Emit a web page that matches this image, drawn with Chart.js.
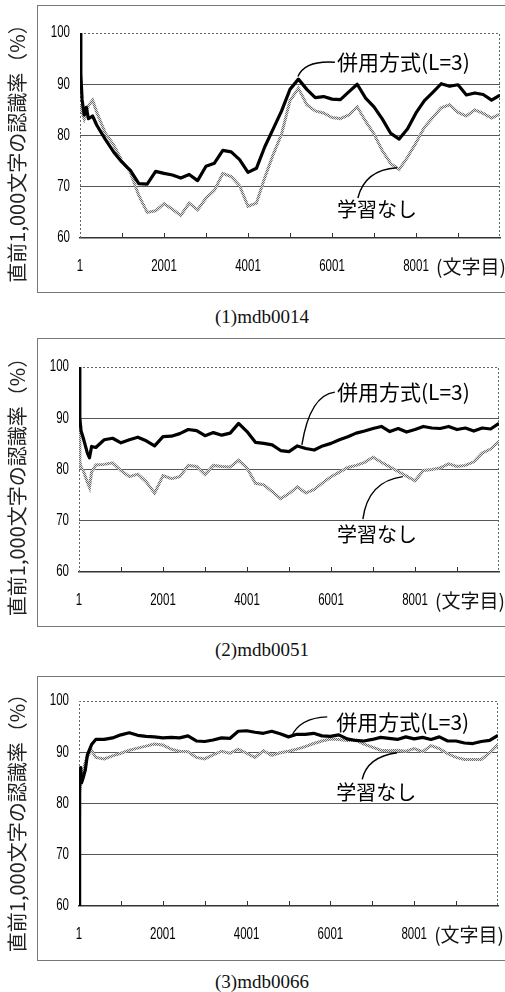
<!DOCTYPE html>
<html>
<head>
<meta charset="utf-8">
<script src="https://cdn.jsdelivr.net/npm/chart.js@4.4.0/dist/chart.umd.min.js"></script>
<style>
body { margin: 0; background: #fff; width: 505px; height: 992px; position: relative; overflow: hidden; }
canvas { position: absolute; left: 0; }
.cap { position: absolute; left: 162px; width: 200px; text-align: center; font: 19px "Liberation Serif", "Times New Roman", serif; color: #111; line-height: 22px; }
</style>
</head>
<body>
<canvas id="c1" width="505" height="300" style="top:0px"></canvas>
<div class="cap" id="cap1" style="top:306px"></div>
<canvas id="c2" width="505" height="300" style="top:334px"></canvas>
<div class="cap" id="cap2" style="top:639px"></div>
<canvas id="c3" width="505" height="300" style="top:668px"></canvas>
<div class="cap" id="cap3" style="top:971px"></div>
<script>
// character positions shared by all three charts (after the first few)
var xGrid = [401, 601, 801, 1001, 1201, 1401, 1601, 1801, 2001, 2201, 2401, 2601, 2801,
  3001, 3201, 3401, 3601, 3801, 4001, 4201, 4401, 4601, 4801, 5001, 5201, 5401, 5601, 5801,
  6001, 6201, 6401, 6601, 6801, 7001, 7201, 7401, 7601, 7801, 8001, 8201, 8401, 8601, 8801,
  9001, 9201, 9401, 9601, 9801, 10001];

// (1) mdb0014
var c1Head = [1, 21, 51, 101, 151, 201, 301];
var c1Comb = [100, 92, 87, 84, 85.5, 83.3, 83.8,
  82.0, 79.3, 76.8, 74.8, 73.2, 70.6, 70.5, 73.0, 72.6, 72.3, 71.7, 72.4, 71.2,
  74.0, 74.6, 77.1, 76.8, 75.3, 72.8, 73.6, 77.8, 81.3, 84.8, 89.0, 91.0, 89.0, 87.4, 87.6,
  87.1, 87.0, 88.5, 90.0, 87.3, 85.6, 83.2, 80.4, 79.3, 81.3, 84.4, 86.8, 88.4, 90.1, 89.6,
  89.9, 87.9, 88.3, 88.0, 86.9, 87.9];
var c1Base = [86, 85.5, 84.5, 83.2, 84.5, 85.8, 86.9,
  84.5, 80.5, 78.2, 75.0, 72.8, 68.3, 65.0, 65.3, 66.7, 65.6, 64.4, 66.8, 65.5,
  67.8, 69.3, 72.6, 72.0, 70.2, 66.2, 66.8, 71.8, 76.3, 80.3, 86.8, 89.2, 86.0, 84.8, 84.4,
  83.5, 83.3, 84.0, 85.6, 82.8, 80.3, 77.0, 74.5, 73.4, 75.8, 78.6, 81.6, 83.5, 85.4, 86.0,
  84.5, 83.8, 85.0, 84.3, 83.4, 84.2];

// (2) mdb0051
var c2Head = [1, 21, 51, 101, 201, 251, 301];
var c2Comb = [100, 90, 87.5, 86.2, 83.2, 82.3, 84.5,
  84.3, 85.8, 86.1, 85.2, 85.8, 86.3, 85.6, 84.6, 86.4, 86.5, 87.0, 87.8, 87.6,
  86.6, 87.2, 86.7, 87.1, 89.0, 87.4, 85.3, 85.1, 84.8, 83.7, 83.5, 84.6, 84.1, 83.8, 84.6,
  85.1, 85.8, 86.4, 87.1, 87.5, 88.0, 88.4, 87.4, 88.0, 87.3, 87.8, 88.4, 88.1, 88.0, 88.4,
  87.8, 88.1, 87.5, 88.1, 87.9, 89.0];
var c2Base = [88, 81.5, 80.5, 79.8, 77.5, 76.5, 79.5,
  80.9, 81.0, 81.3, 79.8, 78.6, 79.1, 77.6, 75.4, 78.8, 78.2, 78.6, 80.8, 80.6,
  79.0, 80.8, 80.6, 80.5, 81.8, 80.3, 77.3, 77.0, 75.7, 74.3, 75.3, 76.6, 75.4, 76.1, 77.4,
  78.6, 79.5, 80.4, 80.8, 81.4, 82.4, 81.4, 80.5, 79.6, 78.7, 77.8, 79.8, 80.0, 80.3, 81.1,
  80.6, 80.8, 81.5, 83.2, 84.0, 85.5];

// (3) mdb0066
var c3Head = [1, 11, 21, 41, 61, 101, 151, 201, 301];
var c3Comb = [60, 78, 86, 87, 84, 85, 86.5, 89.5, 91.5,
  92.5, 92.5, 92.8, 93.4, 93.8, 93.3, 93.1, 93.0, 92.8, 92.9, 92.8, 93.2, 92.2,
  92.1, 92.4, 92.8, 92.7, 94.1, 94.2, 93.9, 93.7, 94.1, 93.6, 93.0, 93.5, 93.5, 93.7, 93.2,
  93.1, 93.4, 92.6, 92.3, 92.2, 92.5, 92.9, 92.7, 92.5, 93.0, 92.6, 92.9, 92.5, 93.0, 92.2,
  92.2, 91.8, 91.7, 92.1, 92.3, 93.3];
var c3Base = [78, 80, 82, 84, 85, 86.5, 88, 89.2, 90.4,
  89.0, 88.7, 89.3, 89.8, 90.4, 90.8, 91.2, 91.6, 91.4, 90.6, 90.2, 90.1, 89.0,
  88.7, 89.5, 90.2, 89.8, 90.6, 89.8, 89.0, 90.3, 89.4, 89.9, 90.2, 90.6, 91.1, 91.7, 92.2,
  92.6, 92.5, 92.3, 92.4, 91.6, 91.0, 90.4, 90.3, 90.4, 90.2, 90.7, 90.1, 91.3, 90.7, 89.7,
  89.0, 88.6, 88.6, 88.6, 89.9, 91.5];

var seriesNames = ['併用方式(L=3)', '学習なし'];
var captions = ['(1)mdb0014', '(2)mdb0051', '(3)mdb0066'];
var yTitle = '直前1,000文字の認識率（%）';
var xUnit = '(文字目)';
var xTickVals = [1, 2001, 4001, 6001, 8001];
var xTickLabels = ['1', '2001', '4001', '6001', '8001'];
var xTickMarks = [1001, 2001, 3001, 4001, 5001, 6001, 7001, 8001, 9001];
var yTicks = [60, 70, 80, 90, 100];

// label anchors and leader curves, in data units: text, start, control, end
var c1Notes = [
  { t: [6118, 94.3], s: [6070, 94.3], c: [5356, 94.7], e: [5190, 91.5] },
  { t: [6118, 65.5], s: [6617, 67.8], c: [6784, 73.3], e: [7546, 73.7] }
];
var c2Notes = [
  { t: [6141, 95.1], s: [6093, 95.1], c: [5498, 94.5], e: [5308, 84.8] },
  { t: [6141, 67.4], s: [6760, 70.3], c: [6879, 77.7], e: [7712, 78.6] }
];
var c3Notes = [
  { t: [6141, 95.9], s: [5926, 96.9], c: [5260, 96.7], e: [5069, 93.0] },
  { t: [6141, 82.1], s: [6760, 84.7], c: [6879, 89.1], e: [7592, 89.9] }
];

var tickFont = '"Liberation Sans", Arial, sans-serif';
var cjkFont = '"Noto Sans CJK JP", "Noto Sans", sans-serif';

// checkered gray stroke for the 学習なし line
var pc = document.createElement('canvas');
pc.width = 2; pc.height = 2;
var pctx = pc.getContext('2d');
pctx.fillStyle = '#e2e2e2'; pctx.fillRect(0, 0, 2, 2);
pctx.fillStyle = '#6a6a6a'; pctx.fillRect(0, 0, 1, 1); pctx.fillRect(1, 1, 1, 1);
var grayPattern = pctx.createPattern(pc, 'repeat');

// tick numbers are condensed in the original, so squeeze them sideways
function narrowText(ctx, txt, x, y, align) {
  ctx.save();
  ctx.translate(x, y);
  ctx.scale(0.72, 1);
  ctx.textAlign = align;
  ctx.textBaseline = 'middle';
  ctx.fillText(txt, 0, 0);
  ctx.restore();
}

function framePlugin(opt) {
  return {
    id: 'frame',
    beforeDraw: function (chart) {
      var ctx = chart.ctx;
      ctx.save();
      ctx.strokeStyle = '#777';
      ctx.lineWidth = 1;
      ctx.strokeRect(37.5, opt.boxTop + 0.5, 480, 292 - opt.boxTop);
      ctx.restore();
    },
    beforeDatasetsDraw: function (chart) {
      var ctx = chart.ctx, a = chart.chartArea, xs = chart.scales.x, ys = chart.scales.y;
      ctx.save();
      ctx.strokeStyle = '#666';
      ctx.lineWidth = 1;
      ctx.setLineDash([2, 2]);
      ctx.beginPath();
      ctx.moveTo(a.left + 0.5, a.bottom);
      ctx.lineTo(a.left + 0.5, a.top + 0.5);
      ctx.lineTo(a.right - 0.5, a.top + 0.5);
      ctx.lineTo(a.right - 0.5, a.bottom);
      ctx.stroke();
      ctx.setLineDash([]);
      ctx.strokeStyle = '#333';
      ctx.beginPath();
      xTickMarks.forEach(function (v) {
        var p = Math.round(xs.getPixelForValue(v)) + 0.5;
        ctx.moveTo(p, a.bottom);
        ctx.lineTo(p, a.bottom - 5);
      });
      ctx.stroke();
      // tick labels
      ctx.fillStyle = '#000';
      ctx.font = '16px ' + tickFont;
      xTickVals.forEach(function (v, i) {
        narrowText(ctx, xTickLabels[i], xs.getPixelForValue(v), a.bottom + 29, 'center');
      });
      yTicks.forEach(function (v) {
        narrowText(ctx, String(v), a.left - 10, ys.getPixelForValue(v), 'right');
      });
      ctx.restore();
    },
    afterDatasetsDraw: function (chart) {
      var ctx = chart.ctx, a = chart.chartArea, xs = chart.scales.x, ys = chart.scales.y;
      function px(p) { return [xs.getPixelForValue(p[0]), ys.getPixelForValue(p[1])]; }
      ctx.save();
      // leaders and labels
      opt.notes.forEach(function (n, i) {
        var s = px(n.s), c = px(n.c), e = px(n.e), t = px(n.t);
        ctx.strokeStyle = '#000';
        ctx.lineWidth = 1.4;
        ctx.beginPath();
        ctx.moveTo(s[0], s[1]);
        ctx.quadraticCurveTo(c[0], c[1], e[0], e[1]);
        ctx.stroke();
        ctx.fillStyle = '#000';
        ctx.font = (i == 0 ? '21px ' : '20px ') + cjkFont;
        ctx.textAlign = 'left';
        ctx.textBaseline = 'middle';
        ctx.fillText(seriesNames[i], t[0], t[1]);
      });
      // unit after the last x label
      ctx.font = '19px ' + cjkFont;
      ctx.fillStyle = '#111';
      ctx.textBaseline = 'middle';
      ctx.textAlign = 'left';
      ctx.fillText(xUnit, xs.getPixelForValue(8001) + 20, a.bottom + 29);
      // rotated y title, centred in the box
      ctx.translate(17, (opt.boxTop + 292) / 2);
      ctx.rotate(-Math.PI / 2);
      ctx.textAlign = 'center';
      ctx.font = '20px ' + cjkFont;
      ctx.fillStyle = '#222';
      ctx.fillText(yTitle, 0, 0);
      ctx.restore();
    }
  };
}

function makeChart(id, xs, comb, base, opt) {
  var ctx = document.getElementById(id).getContext('2d');
  return new Chart(ctx, {
    type: 'line',
    data: {
      datasets: [{
        label: seriesNames[0],
        data: xs.map(function (x, i) { return { x: x, y: comb[i] }; }),
        borderColor: '#000',
        borderWidth: 3.2,
        borderJoinStyle: 'round',
        pointRadius: 0,
        tension: 0
      }, {
        label: seriesNames[1],
        data: xs.map(function (x, i) { return { x: x, y: base[i] }; }),
        borderColor: grayPattern,
        borderWidth: 3,
        pointRadius: 0,
        tension: 0
      }]
    },
    options: {
      responsive: false,
      animation: false,
      devicePixelRatio: 1,
      layout: { padding: { left: 0, right: opt.padRight, top: 33, bottom: 0 } },
      plugins: { legend: { display: false }, tooltip: { enabled: false } },
      scales: {
        x: {
          type: 'linear', min: 1, max: 10001,
          afterBuildTicks: function (s) { s.ticks = xTickVals.map(function (v) { return { value: v }; }); },
          afterFit: function (s) { s.height = 62; },
          ticks: { display: false },
          grid: { display: false, drawTicks: false },
          border: { display: true, color: '#333', width: 1.5 }
        },
        y: {
          min: 60, max: 100,
          afterBuildTicks: function (s) { s.ticks = yTicks.map(function (v) { return { value: v }; }); },
          afterFit: function (s) { s.width = opt.plotLeft; },
          ticks: { display: false },
          grid: {
            drawTicks: false, lineWidth: 1,
            color: function (c) {
              var v = c.tick ? c.tick.value : 0;
              return (v == 60 || v == 100) ? 'rgba(0,0,0,0)' : '#555';
            }
          },
          border: { display: false }
        }
      }
    },
    plugins: [framePlugin(opt)]
  });
}

makeChart('c1', c1Head.concat(xGrid), c1Comb, c1Base, { plotLeft: 80, padRight: 5, boxTop: 5, notes: c1Notes });
makeChart('c2', c2Head.concat(xGrid), c2Comb, c2Base, { plotLeft: 79, padRight: 6, boxTop: 4, notes: c2Notes });
makeChart('c3', c3Head.concat(xGrid), c3Comb, c3Base, { plotLeft: 79, padRight: 7, boxTop: 8, notes: c3Notes });

document.getElementById('cap1').textContent = captions[0];
document.getElementById('cap2').textContent = captions[1];
document.getElementById('cap3').textContent = captions[2];
</script>
</body>
</html>
